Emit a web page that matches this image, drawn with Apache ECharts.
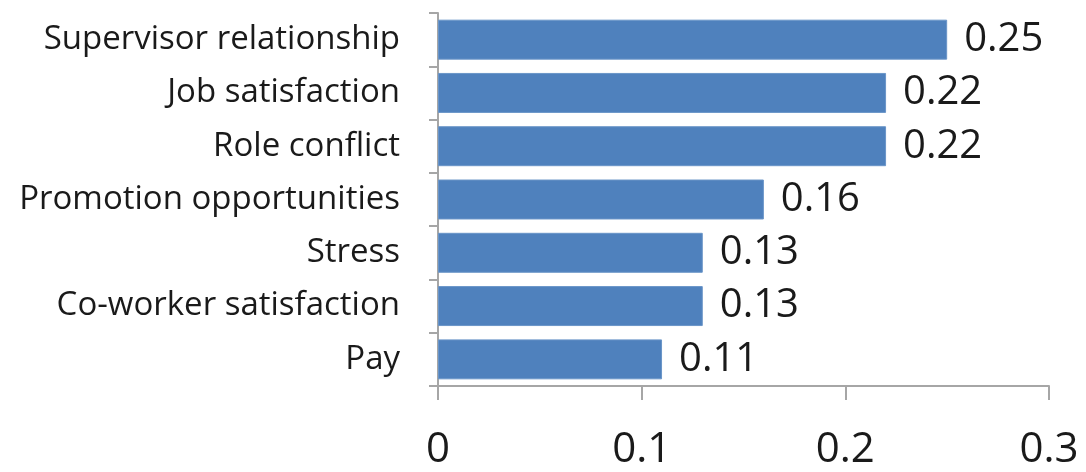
<!DOCTYPE html>
<html>
<head>
<meta charset="utf-8">
<style>
  html, body { margin: 0; padding: 0; background: #ffffff; }
  #chart { width: 1086px; height: 472px; }
</style>
<script src="https://cdn.jsdelivr.net/npm/echarts@6/dist/echarts.min.js"></script>
</head>
<body>
<div id="chart"></div>
<script>
// Correlates, listed bottom to top as the category axis draws them
const factors = [
  'Pay',
  'Co-worker satisfaction',
  'Stress',
  'Promotion opportunities',
  'Role conflict',
  'Job satisfaction',
  'Supervisor relationship'
];
const correlations = [0.11, 0.13, 0.13, 0.16, 0.22, 0.22, 0.25];
const xTicks = [0, 0.1, 0.2, 0.3];

const FONT = '"Open Sans", Lato, sans-serif';
const chart = echarts.init(document.getElementById('chart'));

chart.setOption({
  animation: false,
  backgroundColor: '#ffffff',
  grid: { left: 438, right: 37, top: 13, bottom: 86 },
  xAxis: {
    type: 'value',
    min: xTicks[0],
    max: xTicks[xTicks.length - 1],
    interval: 0.1,
    splitLine: { show: false },
    axisLine: { show: true, lineStyle: { color: '#a6a6a6', width: 2 } },
    axisTick: { show: true, length: 14, lineStyle: { color: '#a6a6a6', width: 2 } },
    axisLabel: {
      fontFamily: FONT, fontSize: 42, color: '#1a1a1a', margin: 43,
      formatter: v => String(Math.round(v * 10) / 10)
    }
  },
  yAxis: {
    type: 'category',
    data: factors,
    axisLine: { show: true, lineStyle: { color: '#a6a6a6', width: 2 } },
    axisTick: { show: true, length: 9, lineStyle: { color: '#a6a6a6', width: 2 } },
    axisLabel: { fontFamily: FONT, fontSize: 33, color: '#1a1a1a', margin: 38 }
  },
  series: [{
    type: 'bar',
    data: correlations,
    barWidth: '75%',
    itemStyle: { color: '#4f81bd', borderColor: '#6a95c8', borderWidth: 1 },
    label: {
      show: true, position: 'right', distance: 17,
      fontFamily: FONT, fontSize: 40, color: '#1a1a1a',
      formatter: p => p.value.toFixed(2)
    }
  }]
});
</script>
</body>
</html>
